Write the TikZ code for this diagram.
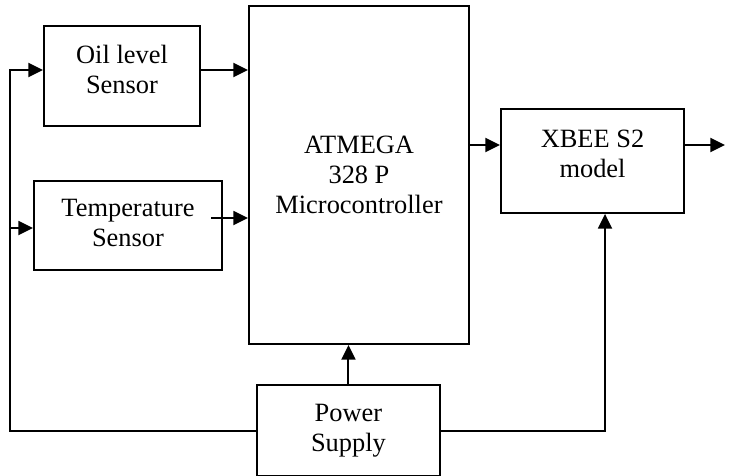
\documentclass[tikz,border=0pt]{standalone}
\usepackage{fontspec}
\setmainfont{Liberation Serif}
\usetikzlibrary{positioning,arrows.meta}

\begin{document}
\begin{tikzpicture}[x=0.75pt,y=0.75pt,
    box/.style={draw,line width=1.5pt,align=center,inner sep=0pt,font=\fontsize{19.8pt}{22.5pt}\selectfont},
    wire/.style={line width=1.5pt},
    arr/.style={wire,-{Triangle[length=11pt,width=10.5pt]}}]
    \useasboundingbox (0,0) rectangle (731,475);
    \node[box,minimum width=165pt,minimum height=253.5pt] (mc) at (359,300) {ATMEGA\\328 P\\Microcontroller};
    \node[box,minimum width=117pt,minimum height=75pt,text depth=10.5pt,below left=15pt and 35.25pt of mc.north west] (oil) {Oil level\\Sensor};
    \node[box,minimum width=141pt,minimum height=66.75pt,text depth=4.5pt,below left=131.25pt and 18.75pt of mc.north west] (temp) {Temperature\\Sensor};
    \node[box,minimum width=137.25pt,minimum height=78pt,text depth=10.5pt,below right=77.25pt and 22.5pt of mc.north east] (xbee) {XBEE S2\\model};
    \node[box,minimum width=137.25pt,minimum height=68.25pt,below=29.25pt of mc,xshift=-7.9pt] (ps) {Power\\Supply};

    \coordinate[left=24.75pt of oil.west,yshift=4.5pt] (bt);
    \coordinate[right=30pt of xbee.east,yshift=12pt] (out);

    \draw[arr] ([yshift=4.5pt]oil.east) -- ([yshift=4.5pt]oil.east -| mc.west);
    \draw[arr] ([xshift=-9pt,yshift=5.6pt]temp.east) -- ([yshift=5.6pt]temp.east -| mc.west);
    \draw[arr] ([yshift=12pt]xbee.west -| mc.east) -- ([yshift=12pt]xbee.west);
    \draw[arr] ([yshift=12pt]xbee.east) -- (out);
    \draw[arr] (ps.north) -- (ps.north |- mc.south);
    \draw[arr] (ps.west) -- (bt |- ps.west) -- (bt) -- ([yshift=4.5pt]oil.west);
    \draw[arr] ([yshift=-1.9pt]temp.west -| bt) -- ([yshift=-1.9pt]temp.west);
    \draw[arr] (ps.east) -| ([xshift=9.4pt]xbee.south);
\end{tikzpicture}
\end{document}
